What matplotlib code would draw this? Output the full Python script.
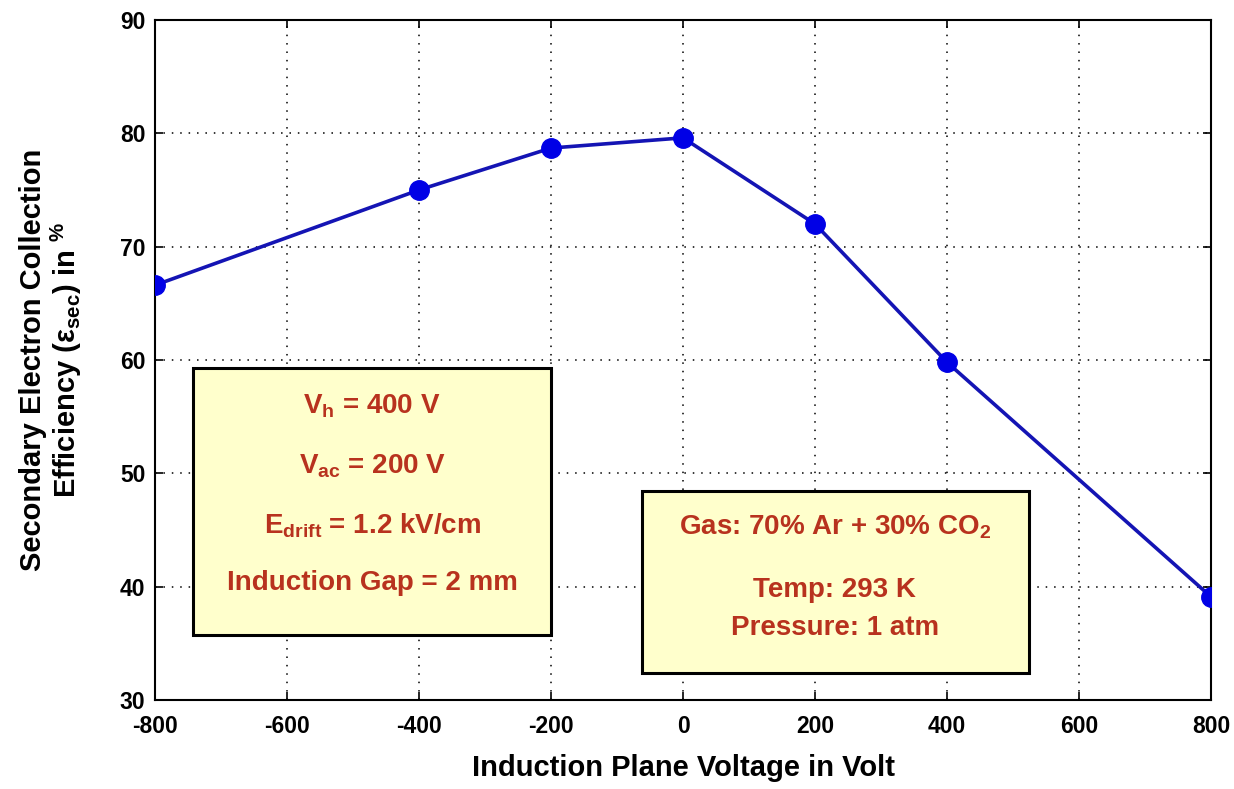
import matplotlib
matplotlib.use("Agg")
import matplotlib.pyplot as plt
from matplotlib.patches import Rectangle

plt.rcParams['font.family'] = ['Liberation Sans', 'DejaVu Sans']
plt.rcParams['font.weight'] = 'bold'
plt.rcParams['axes.unicode_minus'] = False
plt.rcParams['mathtext.fontset'] = 'custom'
plt.rcParams['mathtext.rm'] = 'Liberation Sans:bold'
plt.rcParams['mathtext.it'] = 'Liberation Sans:bold'
plt.rcParams['mathtext.bf'] = 'Liberation Sans:bold'
plt.rcParams['mathtext.default'] = 'rm'

# induction plane voltage (V) vs secondary electron collection efficiency (%)
voltage = [-800, -400, -200, 0, 200, 400, 800]
efficiency = [66.6, 75.0, 78.7, 79.6, 72.0, 59.8, 39.1]

x_ticks = [-800, -600, -400, -200, 0, 200, 400, 600, 800]
y_ticks = [30, 40, 50, 60, 70, 80, 90]

box1_lines = [r'V$_{\mathrm{h}}$ = 400 V',
              r'V$_{\mathrm{ac}}$ = 200 V',
              r'E$_{\mathrm{drift}}$ = 1.2 kV/cm',
              'Induction Gap = 2 mm']
box2_lines = [r'Gas: 70% Ar + 30% CO$_{\mathrm{2}}$',
              'Temp: 293 K',
              'Pressure: 1 atm']

text_color = '#B8321E'
box_face = '#FFFFCC'

fig = plt.figure(figsize=(12.34, 7.89), dpi=100)
ax = fig.add_axes([0.1256, 0.1128, 0.8558, 0.8619])

ax.plot(voltage, efficiency, color='#1414B4', linewidth=2.6,
        marker='o', markersize=14, markerfacecolor='#0000E6',
        markeredgecolor='#0000E6', zorder=5)

ax.set_xlim(-800, 800)
ax.set_ylim(30, 90)
ax.set_xticks(x_ticks)
ax.set_yticks(y_ticks)
ax.tick_params(direction='in', length=6, width=1.2, top=True, right=True,
               labelsize=16.5)
ax.tick_params(axis='x', pad=11)
ax.tick_params(axis='y', pad=7)
for lab in ax.get_xticklabels() + ax.get_yticklabels():
    lab.set_fontweight('bold')
ax.grid(True, color='black', linestyle=(0, (1, 4.5)), linewidth=1.1)
for sp in ax.spines.values():
    sp.set_linewidth(1.5)

ax.set_xlabel('Induction Plane Voltage in Volt', fontsize=21, fontweight='bold',
              labelpad=11)
ax.set_ylabel('Secondary Electron Collection\n'
              r'Efficiency ($\epsilon_{\mathrm{sec}}$) in $^{\%}$',
              fontsize=21, fontweight='bold', labelpad=26, linespacing=1.05)

# parameter boxes
ax.add_patch(Rectangle((-742, 35.7), 542, 23.6, facecolor=box_face,
                       edgecolor='black', linewidth=2.2, zorder=6))
for txt, yb in zip(box1_lines, [55.3, 50.0, 44.7, 39.7]):
    ax.text(-471, yb, txt, ha='center', va='baseline', fontsize=20,
            fontweight='bold', color=text_color, zorder=7)

ax.add_patch(Rectangle((-62, 32.4), 586, 16.0, facecolor=box_face,
                       edgecolor='black', linewidth=2.2, zorder=6))
for txt, yb in zip(box2_lines, [44.6, 39.1, 35.7]):
    ax.text(230, yb, txt, ha='center', va='baseline', fontsize=20,
            fontweight='bold', color=text_color, zorder=7)

fig.savefig('out.png', dpi=100)
